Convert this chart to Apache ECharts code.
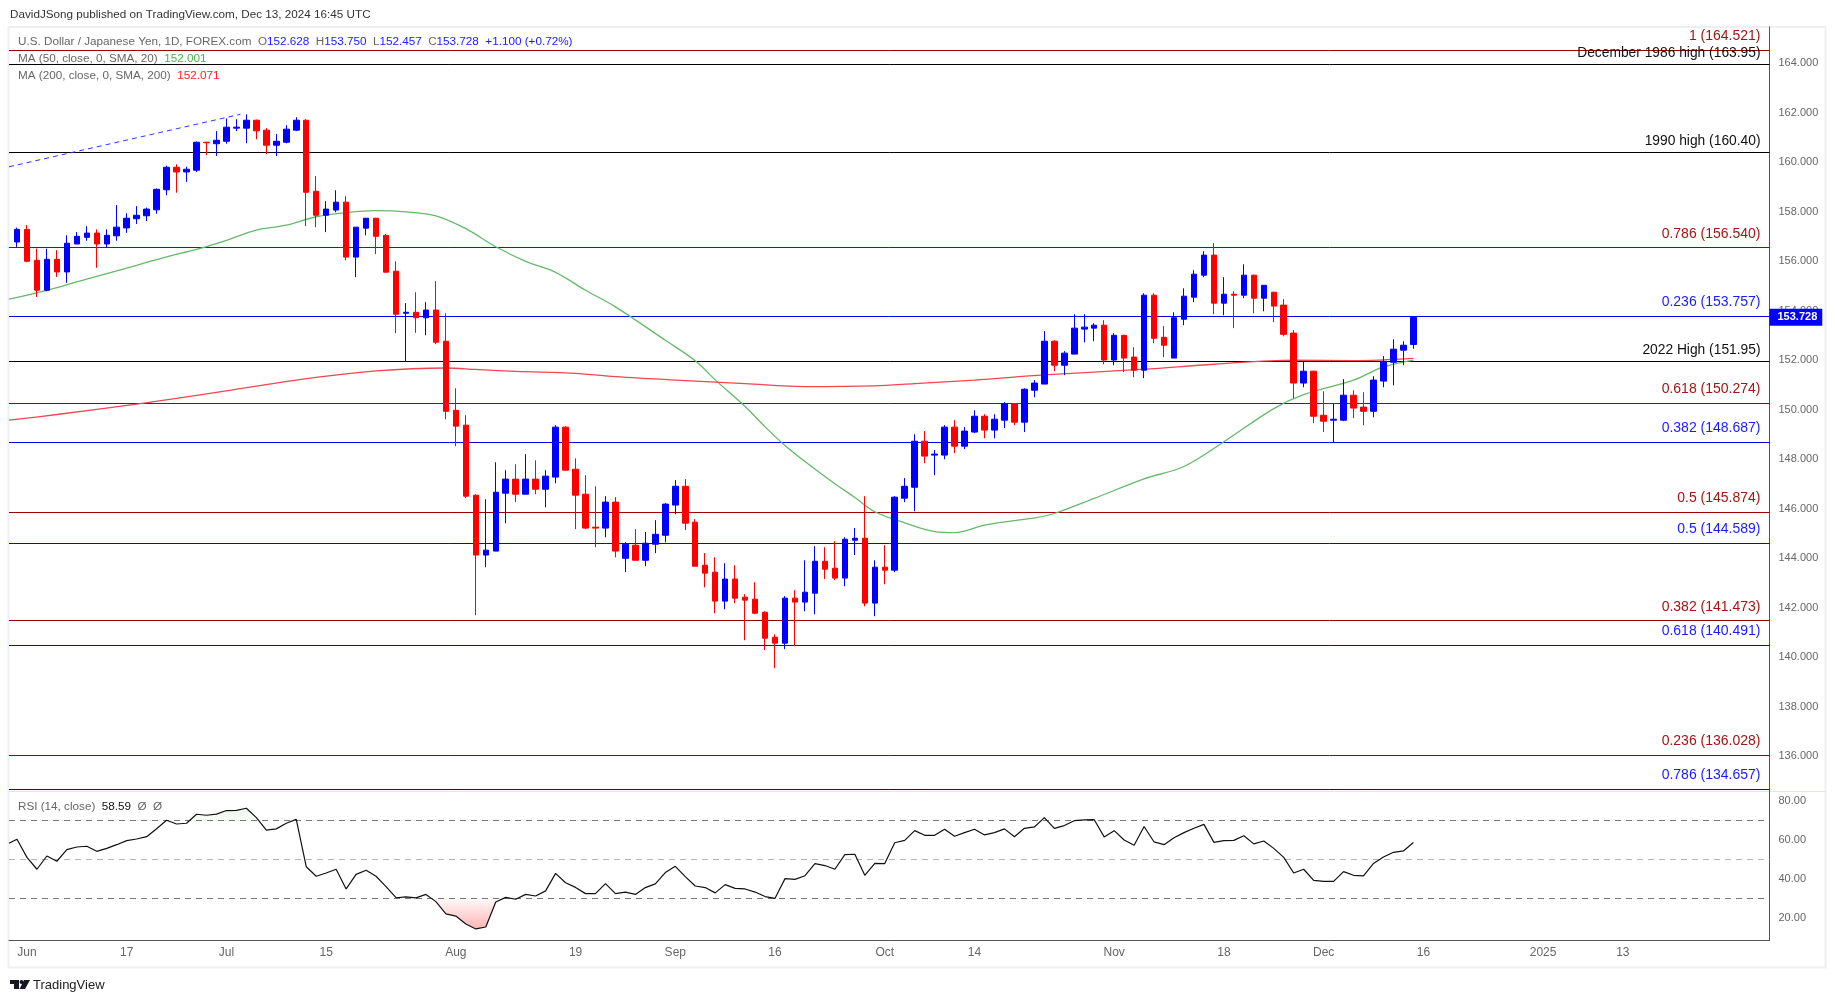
<!DOCTYPE html>
<html>
<head>
<meta charset="utf-8">
<title>USD/JPY</title>
<script src="https://cdn.jsdelivr.net/npm/echarts@6/dist/echarts.min.js"></script>
<style>
    html, body { margin: 0; padding: 0; background: #fff; }
    #main { width: 1835px; height: 1003px; }
</style>
</head>
<body>
<div id="main"></div>
<script>
// 每日K线 (index 0 = May 31 2024, index 140 = Dec 13 2024)
const opens = [
    156.77, 157.28, 156.03, 154.82, 156.07, 155.56, 156.69, 156.96, 157.13, 156.69,
    157.02, 157.34, 157.71, 157.83, 158.07, 158.88, 159.79, 159.60, 159.67, 160.80,
    160.74, 160.84, 161.37, 161.37, 161.69, 161.29, 160.68, 160.80, 161.29, 161.69,
    158.82, 157.85, 158.06, 158.38, 156.16, 157.33, 157.73, 157.04, 155.59, 153.89,
    153.93, 153.71, 154.02, 152.76, 149.97, 149.37, 146.54, 144.12, 144.28, 146.62,
    147.19, 146.58, 147.19, 146.78, 147.27, 149.29, 147.59, 146.58, 145.25, 145.21,
    146.26, 143.99, 144.52, 143.91, 144.56, 144.92, 146.14, 146.90, 145.45, 143.71,
    143.43, 142.26, 143.15, 142.42, 142.34, 141.81, 140.80, 140.56, 142.38, 142.22,
    142.58, 143.87, 143.59, 143.19, 144.72, 144.80, 142.18, 143.63, 143.51, 146.42,
    146.86, 148.72, 148.16, 148.16, 149.29, 148.52, 149.09, 149.73, 149.17, 149.57,
    150.24, 149.49, 150.78, 151.03, 152.76, 151.79, 152.24, 153.25, 153.29, 153.41,
    152.00, 153.00, 152.12, 151.59, 154.62, 152.92, 152.08, 153.65, 154.54, 155.43,
    156.24, 154.30, 154.66, 154.62, 155.43, 154.50, 154.74, 154.22, 153.09, 151.07,
    151.55, 149.77, 149.57, 149.57, 150.58, 150.10, 149.93, 151.15, 151.91, 152.40,
    152.628
]
const highs = [
    157.35, 157.45, 156.50, 156.50, 156.44, 157.04, 157.17, 157.41, 157.28, 157.28,
    158.26, 157.93, 158.22, 158.16, 158.93, 159.85, 159.91, 159.81, 160.83, 160.82,
    161.25, 161.76, 161.73, 161.93, 161.72, 161.37, 161.13, 161.49, 161.81, 161.73,
    159.43, 158.42, 158.86, 158.62, 157.37, 157.73, 157.75, 157.09, 155.99, 154.30,
    154.74, 154.34, 155.19, 153.89, 150.86, 149.77, 146.58, 146.38, 147.87, 147.55,
    147.79, 148.20, 147.95, 147.55, 149.37, 149.33, 148.03, 147.35, 146.90, 146.50,
    146.46, 144.64, 145.17, 145.05, 145.53, 146.22, 147.15, 147.19, 145.57, 144.20,
    144.03, 143.79, 143.71, 142.54, 143.02, 141.85, 140.92, 142.46, 142.70, 143.91,
    144.48, 144.44, 144.68, 144.84, 145.21, 146.50, 143.91, 144.52, 146.50, 147.23,
    149.00, 149.13, 148.36, 149.37, 149.57, 149.29, 149.97, 149.81, 149.81, 150.30,
    150.26, 150.86, 151.19, 153.17, 152.80, 152.36, 153.85, 153.85, 153.49, 153.61,
    153.09, 153.02, 152.52, 154.70, 154.70, 153.37, 153.93, 154.90, 155.63, 156.40,
    156.72, 155.35, 154.78, 155.87, 155.45, 155.02, 154.76, 154.46, 153.21, 151.95,
    151.57, 150.74, 150.24, 151.23, 150.78, 150.70, 151.35, 152.16, 152.84, 152.76,
    153.75
]
const lows = [
    156.57, 155.95, 154.55, 154.78, 155.36, 155.12, 156.69, 156.82, 155.73, 156.56,
    156.82, 157.14, 157.50, 157.62, 157.91, 158.66, 158.76, 159.20, 159.60, 160.28,
    160.25, 160.74, 161.25, 160.76, 160.92, 160.32, 160.24, 160.76, 161.25, 157.41,
    157.37, 157.17, 157.97, 156.03, 155.35, 157.04, 156.28, 155.55, 153.09, 151.94,
    153.10, 153.00, 152.64, 149.61, 148.52, 146.42, 141.69, 143.63, 144.28, 145.41,
    146.26, 146.58, 146.58, 146.05, 147.02, 147.55, 145.17, 145.17, 144.44, 144.84,
    144.03, 143.43, 143.91, 143.67, 144.20, 144.64, 145.77, 145.13, 143.67, 142.82,
    141.77, 141.93, 142.18, 140.68, 141.73, 140.28, 139.55, 140.32, 140.44, 141.85,
    141.73, 143.15, 143.11, 142.86, 144.12, 142.05, 141.65, 142.94, 143.43, 146.26,
    145.89, 147.83, 147.35, 147.99, 148.24, 148.40, 149.05, 148.84, 148.84, 149.25,
    149.37, 149.09, 150.50, 151.03, 151.55, 151.39, 152.24, 152.72, 152.76, 151.83,
    151.79, 151.51, 151.31, 151.27, 152.68, 152.12, 152.08, 153.41, 154.34, 155.35,
    153.85, 153.81, 153.29, 154.50, 153.89, 153.97, 153.53, 152.96, 150.46, 150.90,
    149.45, 149.09, 148.67, 149.53, 149.65, 149.37, 149.69, 150.90, 150.98, 151.79,
    152.457
]
const closes = [
    157.28, 155.99, 154.82, 156.07, 155.56, 156.72, 157.00, 157.13, 156.69, 157.04,
    157.37, 157.73, 157.85, 158.10, 158.90, 159.79, 159.60, 159.71, 160.80, 160.78,
    160.88, 161.41, 161.41, 161.69, 161.26, 160.68, 160.84, 161.33, 161.69, 158.78,
    157.85, 158.10, 158.38, 156.16, 157.37, 157.73, 157.00, 155.55, 153.85, 153.93,
    153.71, 154.02, 152.72, 149.93, 149.33, 146.50, 144.12, 144.32, 146.66, 147.19,
    146.58, 147.19, 146.78, 147.31, 149.29, 147.55, 146.54, 145.21, 145.21, 146.26,
    144.28, 144.56, 143.91, 144.60, 144.96, 146.18, 146.90, 145.41, 143.67, 143.39,
    142.26, 143.15, 142.38, 142.30, 141.77, 140.76, 140.56, 142.38, 142.22, 142.62,
    143.87, 143.55, 143.19, 144.76, 144.80, 142.18, 143.63, 143.51, 146.46, 146.90,
    148.72, 148.12, 148.20, 149.29, 148.52, 149.13, 149.73, 149.17, 149.61, 150.24,
    149.49, 150.82, 151.07, 152.76, 151.79, 152.28, 153.29, 153.33, 153.41, 152.00,
    153.00, 152.08, 151.59, 154.62, 152.88, 152.60, 153.71, 154.58, 155.47, 156.24,
    154.30, 154.66, 154.62, 155.43, 154.50, 155.02, 154.18, 153.04, 151.07, 151.55,
    149.73, 149.53, 149.61, 150.58, 150.06, 149.93, 151.19, 151.95, 152.44, 152.60,
    153.728
]

// 均线, 读图取点
const ma50Idx = [-0.8, 3, 6, 12, 15, 18, 21, 24, 27, 30, 33, 36, 39, 42, 45, 48, 51, 54, 57, 60, 65, 68, 70, 73, 75, 77, 79, 82, 84, 86, 89, 92, 94, 97, 100, 102, 104, 108, 113, 117, 121, 126, 129, 134, 137, 140]
const ma50Vals = [154.46, 154.82, 155.16, 155.83, 156.17, 156.47, 156.84, 157.25, 157.45, 157.79, 157.96, 158.04, 157.99, 157.83, 157.31, 156.58, 155.99, 155.54, 154.82, 154.15, 152.80, 151.97, 151.2, 150.12, 149.3, 148.55, 147.9, 147.0, 146.45, 145.87, 145.42, 145.07, 145.03, 145.33, 145.51, 145.62, 145.8, 146.41, 147.2, 147.7, 148.7, 150.04, 150.6, 151.19, 151.72, 152.001]
const ma200Idx = [-0.8, 4, 12, 20, 28, 36, 43, 46, 50, 56, 60, 66, 73, 79, 86, 90, 96, 103, 113, 120, 128, 134, 140]
const ma200Vals = [149.57, 149.80, 150.22, 150.69, 151.19, 151.56, 151.68, 151.62, 151.54, 151.46, 151.33, 151.19, 151.05, 150.93, 150.96, 151.05, 151.19, 151.4, 151.63, 151.83, 152.0, 151.98, 152.071]

// 斐波那契虚线
const trendIdx = [-0.8, 22.4]
const trendVals = [159.81, 161.93]

// 水平线
const levelVals = [164.521, 163.95, 160.40, 156.54, 153.757, 151.95, 150.274, 148.687, 145.874, 144.589, 141.473, 140.491, 136.028, 134.657]
const levelTexts = ['1 (164.521)', 'December 1986 high (163.95)', '1990 high (160.40)', '0.786 (156.540)', '0.236 (153.757)', '2022 High (151.95)', '0.618 (150.274)', '0.382 (148.687)', '0.5 (145.874)', '0.5 (144.589)', '0.382 (141.473)', '0.618 (140.491)', '0.236 (136.028)', '0.786 (134.657)']
const levelKinds = ['red', 'black', 'black', 'red', 'blue', 'black', 'red', 'blue', 'red', 'blue', 'red', 'blue', 'red', 'blue']

// RSI
const rsiLeadIn = [-0.8, 58.2]
const rsiVals = [
    60.3, 51, 44.9, 51.7, 49, 55, 56.3, 56.7, 54.1, 55.6,
    57.5, 59.6, 60.4, 61.6, 65.7, 70, 68.1, 68.5, 73.1, 72.6,
    73.2, 75, 75.1, 76.2, 71.4, 65, 65.6, 68.5, 70.5, 46.2,
    41.3, 43, 44.9, 34.8, 42.3, 44.4, 41.3, 36, 30.3, 30.7,
    30.2, 32, 28.3, 22, 20.9, 16.8, 14.3, 15.3, 28.1, 30.5,
    29.5, 32, 31.2, 33.8, 42.8, 38, 35.6, 32.4, 32.4, 37.5,
    32.4, 33.2, 32, 35.5, 37.4, 43.2, 46.4, 41.1, 36.3, 35.5,
    32.8, 37, 35.1, 34.8, 33.2, 30.9, 30, 40.1, 39.7, 41.6,
    47.8, 46.8, 44.9, 52.4, 52.6, 41.8, 47.9, 47.8, 58.5, 59.7,
    64.7, 62.3, 62.3, 65.4, 61.8, 63.7, 65.4, 62.5, 63.7, 65.6,
    61.6, 65.9, 66.6, 71.4, 65.9, 67.3, 69.8, 70.2, 70.3, 61.5,
    64.7, 59.9, 57.2, 66.8, 58.9, 57.5, 61.1, 63.7, 65.9, 67.9,
    58.7, 59.6, 59.7, 62.1, 57.9, 59.4, 55.6, 51, 43, 44.9,
    39.2, 38.7, 38.7, 43.7, 41.8, 41.5, 47.9, 51.2, 53.6, 54.3,
    58.59
]
const overboughtIdx = [17.3, 18, 19, 20, 21, 22, 23, 24, 24.2]
const overboughtVals = [70, 73.1, 72.6, 73.2, 75, 75.1, 76.2, 71.4, 70]
const oversoldIdx = [41.5, 42, 43, 44, 45, 46, 47, 48, 48.8]
const oversoldVals = [30, 28.3, 22, 20.9, 16.8, 14.3, 15.3, 28.1, 30]
const rsiBands = [70, 50, 30]

// 坐标刻度
const priceTicks = [136, 138, 140, 142, 144, 146, 148, 150, 152, 154, 156, 158, 160, 162, 164]
const rsiTicks = [20, 40, 60, 80]
const timeTickIdx = [1, 11, 21, 31, 44, 56, 66, 76, 87, 96, 110, 121, 131, 141, 153, 161]
const timeTickTexts = ['Jun', '17', 'Jul', '15', 'Aug', '19', 'Sep', '16', 'Oct', '14', 'Nov', '18', 'Dec', '16', '2025', '13']

const FONT = '"Liberation Sans", Arial, sans-serif'
const LEGEND_FONT = '11.7px ' + FONT
const levelColors = { red: '#990000', blue: '#0000ee', black: '#000000' }
const labelColors = { red: '#a31515', blue: '#1a1aff', black: '#111111' }

function pairs(xs, ys) {
    return xs.map((x, i) => [x, ys[i]])
}

const candleRows = opens.map((o, i) => [i, o, closes[i], lows[i], highs[i]])
const rsiRows = [rsiLeadIn].concat(rsiVals.map((v, i) => [i, v]))
const lastClose = closes[closes.length - 1]

const levelLines = levelVals.map((v, i) => ({
    yAxis: v,
    lineStyle: { color: levelColors[levelKinds[i]], width: 1, type: 'solid' },
    label: {
        show: true,
        position: 'insideEndTop',
        formatter: levelTexts[i],
        color: labelColors[levelKinds[i]],
        fontSize: levelKinds[i] === 'black' ? 13.8 : 14,
        fontFamily: FONT,
        distance: [9, levelKinds[i] === 'black' ? 4 : 7]
    }
}))

const bandLines = rsiBands.map(v => ({
    yAxis: v,
    lineStyle: { color: v === 50 ? '#b5b5b5' : '#787878', width: 1, type: [6, 5] },
    label: { show: false }
}))

function timeAxis(gridIndex, showLabel) {
    return {
        type: 'value',
        gridIndex: gridIndex,
        min: -0.8,
        max: 175.7,
        splitLine: { show: false },
        axisTick: { show: false },
        axisLine: { show: showLabel, onZero: false, lineStyle: { color: '#555', width: 1 } },
        axisLabel: {
            show: showLabel,
            customValues: timeTickIdx,
            formatter: v => timeTickTexts[timeTickIdx.indexOf(v)],
            color: '#666',
            fontSize: 12,
            fontFamily: FONT,
            margin: 7
        }
    }
}

function sideAxis(gridIndex, min, max, ticks, digits) {
    return {
        type: 'value',
        gridIndex: gridIndex,
        position: 'right',
        min: min,
        max: max,
        splitLine: { show: false },
        axisTick: { show: false },
        axisLine: { show: true, onZero: false, lineStyle: { color: '#555', width: 1 } },
        axisLabel: {
            customValues: ticks,
            formatter: v => v.toFixed(digits),
            color: '#666',
            fontSize: 11,
            fontFamily: FONT,
            margin: 9
        }
    }
}

const myChart = echarts.init(document.getElementById('main'), null, { renderer: 'canvas' })

const option = {
    animation: false,
    backgroundColor: '#fff',
    grid: [
        { left: 9, top: 27, width: 1760.5, height: 763.7 },
        { left: 9, top: 791, width: 1760.5, height: 149 }
    ],
    xAxis: [timeAxis(0, false), timeAxis(1, true)],
    yAxis: [
        sideAxis(0, 134.6, 165.457, priceTicks, 3),
        sideAxis(1, 8.62, 85.03, rsiTicks, 2)
    ],
    series: [
        // 水平线
        {
            name: 'levels',
            type: 'line',
            xAxisIndex: 0,
            yAxisIndex: 0,
            data: [],
            z: 1,
            markLine: { silent: true, symbol: 'none', z: 1, data: levelLines }
        },
        {
            name: 'MA 50',
            type: 'line',
            xAxisIndex: 0,
            yAxisIndex: 0,
            data: pairs(ma50Idx, ma50Vals),
            showSymbol: false,
            smooth: 0.35,
            z: 2,
            lineStyle: { color: '#66b96a', width: 1.3 }
        },
        {
            name: 'MA 200',
            type: 'line',
            xAxisIndex: 0,
            yAxisIndex: 0,
            data: pairs(ma200Idx, ma200Vals),
            showSymbol: false,
            smooth: 0.35,
            z: 2,
            lineStyle: { color: '#f2474f', width: 1.3 }
        },
        {
            name: 'fib',
            type: 'line',
            xAxisIndex: 0,
            yAxisIndex: 0,
            data: pairs(trendIdx, trendVals),
            showSymbol: false,
            z: 2,
            lineStyle: { color: '#2b3bf0', width: 1, type: [5, 4] }
        },
        // K线
        {
            name: 'USDJPY',
            type: 'candlestick',
            xAxisIndex: 0,
            yAxisIndex: 0,
            data: candleRows,
            encode: { x: 0, y: [1, 2, 3, 4] },
            barWidth: 6,
            z: 3,
            itemStyle: {
                color: '#0000ff',
                color0: '#ff0000',
                borderColor: '#0000ff',
                borderColor0: '#ff0000',
                borderWidth: 1
            }
        },
        // 最新价标签
        {
            name: 'last',
            type: 'line',
            xAxisIndex: 0,
            yAxisIndex: 0,
            data: [],
            z: 6,
            markLine: {
                silent: true,
                symbol: 'none',
                z: 6,
                data: [{
                    yAxis: lastClose,
                    lineStyle: { color: 'transparent', width: 0 },
                    label: {
                        show: true,
                        position: 'end',
                        distance: 0,
                        formatter: lastClose.toFixed(3),
                        color: '#fff',
                        fontWeight: 'bold',
                        fontSize: 11,
                        fontFamily: FONT,
                        backgroundColor: '#0000ff',
                        padding: [3, 5, 3, 8]
                    }
                }]
            }
        },
        // RSI
        {
            name: 'RSI',
            type: 'line',
            xAxisIndex: 1,
            yAxisIndex: 1,
            data: rsiRows,
            showSymbol: false,
            z: 3,
            lineStyle: { color: '#111', width: 1.2 },
            markLine: { silent: true, symbol: 'none', z: 1, data: bandLines }
        },
        {
            name: 'overbought',
            type: 'line',
            xAxisIndex: 1,
            yAxisIndex: 1,
            data: pairs(overboughtIdx, overboughtVals),
            showSymbol: false,
            z: 2,
            lineStyle: { opacity: 0 },
            areaStyle: {
                origin: 70,
                color: new echarts.graphic.LinearGradient(0, 0, 0, 1, [
                    { offset: 0, color: 'rgba(76,175,80,0.18)' },
                    { offset: 1, color: 'rgba(76,175,80,0.03)' }
                ])
            }
        },
        {
            name: 'oversold',
            type: 'line',
            xAxisIndex: 1,
            yAxisIndex: 1,
            data: pairs(oversoldIdx, oversoldVals),
            showSymbol: false,
            z: 2,
            lineStyle: { opacity: 0 },
            areaStyle: {
                origin: 30,
                color: new echarts.graphic.LinearGradient(0, 0, 0, 1, [
                    { offset: 0, color: 'rgba(255,0,0,0.03)' },
                    { offset: 1, color: 'rgba(255,0,0,0.42)' }
                ])
            }
        }
    ],
    graphic: [
        // 外框
        {
            type: 'rect',
            z: 0,
            silent: true,
            shape: { x: 8.5, y: 27, width: 1817, height: 940.5 },
            style: { fill: 'none', stroke: '#eeeff4', lineWidth: 2 }
        },
        // 面板分隔
        {
            type: 'line',
            z: 0,
            silent: true,
            shape: { x1: 9, y1: 791.5, x2: 1826, y2: 791.5 },
            style: { stroke: '#e4e6ee', lineWidth: 1 }
        },
        {
            type: 'text',
            left: 10,
            top: 9,
            style: {
                text: 'DavidJSong published on TradingView.com, Dec 13, 2024 16:45 UTC',
                fill: '#333',
                font: LEGEND_FONT
            }
        },
        {
            type: 'text',
            left: 18,
            top: 36,
            style: {
                text: '{g|U.S. Dollar / Japanese Yen, 1D, FOREX.com}{g|  O}{b|152.628}{g|  H}{b|153.750}{g|  L}{b|152.457}{g|  C}{b|153.728}{b|  +1.100 (+0.72%)}',
                font: LEGEND_FONT,
                rich: {
                    g: { fill: '#666', font: LEGEND_FONT },
                    b: { fill: '#1a1aff', font: LEGEND_FONT }
                }
            }
        },
        {
            type: 'text',
            left: 18,
            top: 53,
            style: {
                text: '{g|MA (50, close, 0, SMA, 20)}{c|  152.001}',
                font: LEGEND_FONT,
                rich: {
                    g: { fill: '#666', font: LEGEND_FONT },
                    c: { fill: '#4caf50', font: LEGEND_FONT }
                }
            }
        },
        {
            type: 'text',
            left: 18,
            top: 70,
            style: {
                text: '{g|MA (200, close, 0, SMA, 200)}{c|  152.071}',
                font: LEGEND_FONT,
                rich: {
                    g: { fill: '#666', font: LEGEND_FONT },
                    c: { fill: '#ff2222', font: LEGEND_FONT }
                }
            }
        },
        {
            type: 'text',
            left: 18,
            top: 801,
            style: {
                text: '{g|RSI (14, close)}{k|  58.59}{g|  Ø  Ø}',
                font: LEGEND_FONT,
                rich: {
                    g: { fill: '#666', font: LEGEND_FONT },
                    k: { fill: '#111', font: LEGEND_FONT }
                }
            }
        },
        // TradingView 标志
        {
            type: 'group',
            left: 10,
            top: 980,
            children: [
                { type: 'polygon', shape: { points: [[0, 0], [9, 0], [9, 9], [4, 9], [4, 4], [0, 4]] }, style: { fill: '#131722' } },
                { type: 'circle', shape: { cx: 11.5, cy: 2, r: 2 }, style: { fill: '#131722' } },
                { type: 'polygon', shape: { points: [[14, 0], [20, 0], [15, 9], [9.5, 9]] }, style: { fill: '#131722' } }
            ]
        },
        {
            type: 'text',
            left: 33,
            top: 979,
            style: { text: 'TradingView', fill: '#222', font: '13px ' + FONT }
        }
    ]
}

myChart.setOption(option)
</script>
</body>
</html>
